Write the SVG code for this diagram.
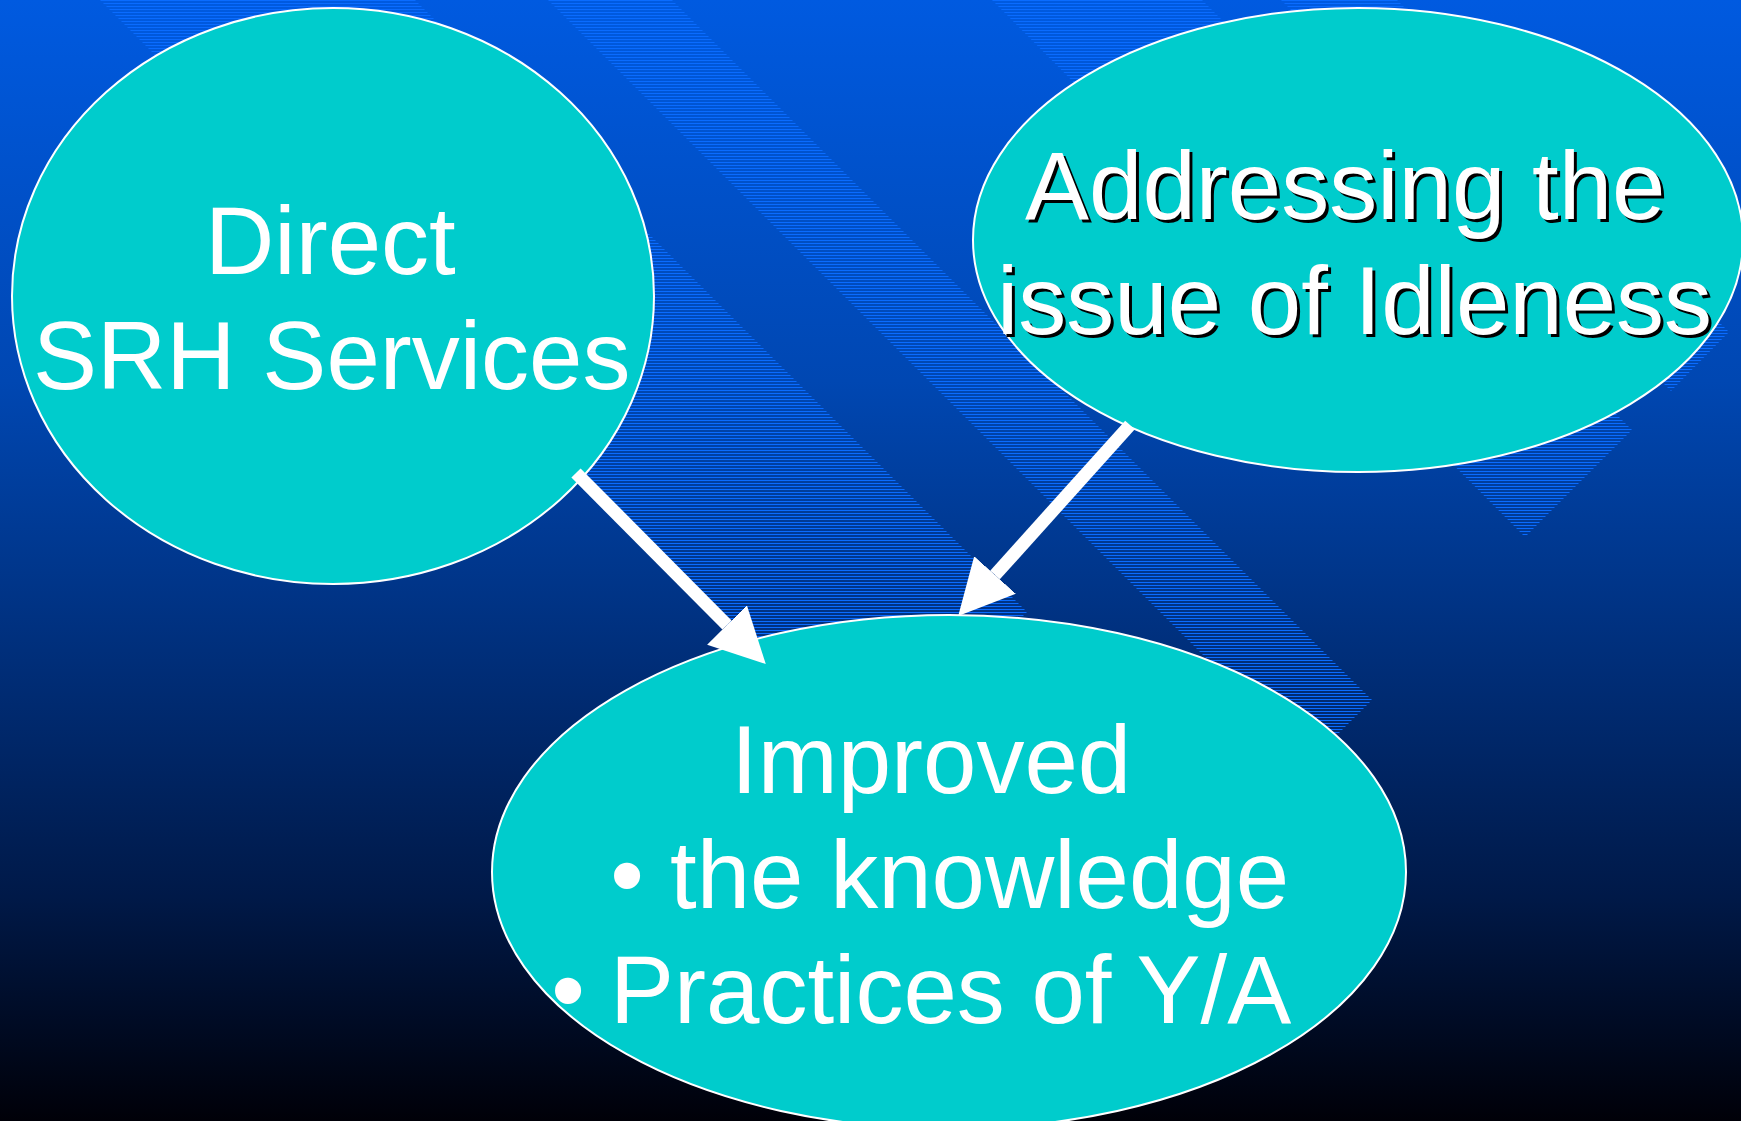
<svg xmlns="http://www.w3.org/2000/svg" width="1741" height="1121" viewBox="0 0 1741 1121">
<defs>
<linearGradient id="bg" x1="0" y1="0" x2="0" y2="1">
<stop offset="0" stop-color="#005ae0"/>
<stop offset="0.34" stop-color="#0047b2"/>
<stop offset="0.62" stop-color="#002b72"/>
<stop offset="0.8" stop-color="#001948"/>
<stop offset="1" stop-color="#000008"/>
</linearGradient>
<pattern id="stripes" patternUnits="userSpaceOnUse" width="20" height="3">
<rect x="0" y="0" width="20" height="1" fill="#0a6cff"/>
</pattern>
<marker id="head" markerUnits="userSpaceOnUse" markerWidth="60" markerHeight="60" refX="0" refY="28" orient="auto" viewBox="0 0 60 60">
<path d="M0,0 L55,28 L0,56 Z" fill="#ffffff"/>
</marker>
<style>
.node ellipse{fill:#00cccc;stroke:#ffffff;stroke-width:2}
.t{font-family:"Liberation Sans",Arial,sans-serif;font-size:96px;fill:#ffffff}
.sh{font-family:"Liberation Sans",Arial,sans-serif;font-size:96px;fill:#000000}
.conn line{stroke:#ffffff;stroke-width:13;fill:none}
</style>
</defs>
<rect x="0" y="0" width="1741" height="1121" fill="url(#bg)"/>
<g id="bands" fill="url(#stripes)">
<polygon points="100,0 415,0 1027,612 870,770"/>
<polygon points="548,0 672,0 1372,700 1310,762"/>
<polygon points="992,0 1202,0 1632,430 1525,537"/>
<polygon points="1281,0 1397,0 1729,332 1671,391"/>
</g>
<g id="node-direct" class="node">
<ellipse cx="333" cy="296" rx="321" ry="288"/>
<text class="t" x="205" y="274">Direct</text>
<text class="t" x="33" y="389">SRH Services</text>
</g>
<g id="node-idleness" class="node">
<ellipse cx="1358" cy="240" rx="385" ry="232"/>
<text class="sh" x="1028" y="222">Addressing the</text>
<text class="sh" x="1000" y="337">issue of Idleness</text>
<text class="t" x="1025" y="219">Addressing the</text>
<text class="t" x="997" y="334">issue of Idleness</text>
</g>
<g id="node-improved" class="node">
<ellipse cx="949" cy="872" rx="457" ry="257"/>
<text class="t" x="731" y="793">Improved</text>
<text class="t" x="627" y="908" text-anchor="middle">•</text>
<text class="t" x="670" y="908">the knowledge</text>
<text class="t" x="568" y="1023" text-anchor="middle">•</text>
<text class="t" x="610" y="1023">Practices of Y/A</text>
</g>
<g id="connectors" class="conn">
<line x1="576" y1="473" x2="727" y2="625" marker-end="url(#head)"/>
<line x1="1130" y1="425" x2="995" y2="575" marker-end="url(#head)"/>
</g>
</svg>
